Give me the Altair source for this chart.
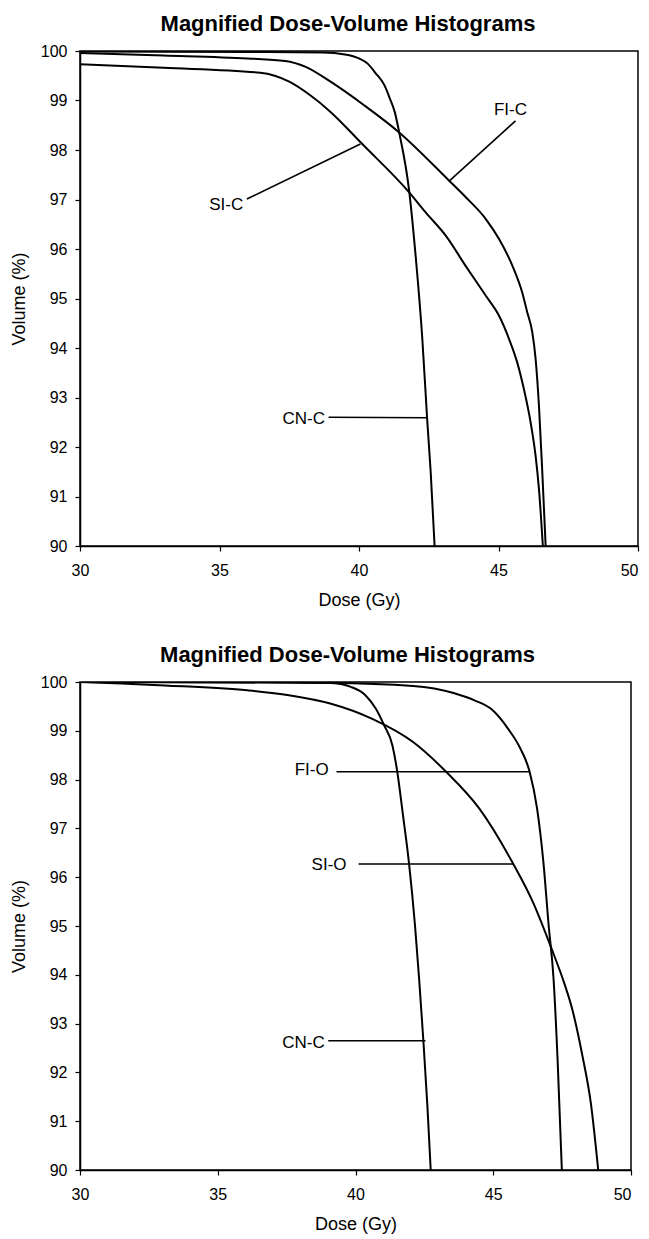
import altair as alt
import pandas as pd

FONT = "Liberation Sans"

# ---------------- Top panel data ----------------
top_cnc_dose = [30, 36, 38.7, 39.5, 40.0, 40.32, 40.6, 40.91, 41.1, 41.28, 41.46, 41.79, 42.03, 42.27, 42.45, 42.57, 42.71]
top_cnc_vol = [99.99, 99.98, 99.97, 99.93, 99.85, 99.74, 99.55, 99.31, 99.05, 98.77, 98.30, 97.21, 95.86, 94.18, 92.50, 91.49, 90.0]

top_fic_dose = [30, 33, 36, 37.35, 38.09, 38.98, 40.17, 41.43, 43.23, 43.82, 44.54, 45.02, 45.50, 45.85, 46.03, 46.21, 46.33, 46.45, 46.57, 46.69]
top_fic_vol = [99.96, 99.91, 99.85, 99.80, 99.68, 99.38, 98.91, 98.36, 97.38, 97.05, 96.61, 96.20, 95.66, 95.12, 94.72, 94.32, 93.78, 92.83, 91.49, 90.0]

top_sic_dose = [30, 33, 36.46, 37.5, 38.24, 38.98, 40.10, 41.79, 42.39, 43.11, 43.82, 44.54, 45.02, 45.38, 45.67, 45.91, 46.15, 46.33, 46.45, 46.59]
top_sic_vol = [99.73, 99.66, 99.56, 99.38, 99.11, 98.77, 98.13, 97.15, 96.74, 96.27, 95.66, 95.06, 94.65, 94.18, 93.71, 93.17, 92.50, 91.82, 91.15, 90.0]

top_labels = ["FI-C", "SI-C", "CN-C"]
top_label_x = [45.43, 35.24, 38.02]
top_label_y = [98.81, 96.89, 92.57]
top_lead_x1 = [45.61, 35.98, 38.91]
top_lead_y1 = [98.59, 97.01, 92.60]
top_lead_x2 = [43.23, 40.05, 42.44]
top_lead_y2 = [97.37, 98.12, 92.59]

# ---------------- Bottom panel data ----------------
bot_cnc_dose = [30, 36, 39.08, 39.83, 40.36, 40.74, 41.04, 41.34, 41.52, 41.71, 41.94, 42.16, 42.31, 42.46, 42.61, 42.73]
bot_cnc_vol = [100, 100, 99.98, 99.90, 99.73, 99.45, 99.11, 98.70, 98.15, 97.33, 96.30, 95.01, 93.91, 92.68, 91.31, 90.0]

bot_fio_dose = [30, 39.08, 42.09, 43.59, 44.34, 44.94, 45.54, 45.99, 46.32, 46.59, 46.82, 47.01, 47.19, 47.34, 47.49]
bot_fio_vol = [100, 99.98, 99.92, 99.77, 99.62, 99.44, 99.04, 98.63, 98.16, 97.41, 96.31, 95.02, 93.91, 92.20, 90.0]

bot_sio_dose = [30, 31.5, 33.08, 36.08, 37.58, 39.08, 40.59, 42.09, 43.29, 44.49, 45.69, 46.44, 47.12, 47.57, 47.87, 48.24, 48.54, 48.81]
bot_sio_vol = [100, 99.97, 99.93, 99.83, 99.73, 99.56, 99.25, 98.77, 98.16, 97.41, 96.31, 95.49, 94.53, 93.84, 93.29, 92.33, 91.38, 90.0]

bot_labels = ["FI-O", "SI-O", "CN-C"]
bot_label_x = [38.41, 39.04, 38.11]
bot_label_y = [98.19, 96.25, 92.61]
bot_lead_x1 = [39.31, 40.11, 39.01]
bot_lead_y1 = [98.16, 96.27, 92.65]
bot_lead_x2 = [46.32, 45.72, 42.54]
bot_lead_y2 = [98.16, 96.27, 92.65]

x_ticks = [30, 35, 40, 45, 50]
y_ticks = [90, 91, 92, 93, 94, 95, 96, 97, 98, 99, 100]
TITLE = "Magnified Dose-Volume Histograms"


def curves_df(series):
    rows = []
    for name, d, v in series:
        for i, (a, b) in enumerate(zip(d, v)):
            rows.append({"series": name, "order": i, "dose": a, "vol": b})
    return pd.DataFrame(rows)


def panel(series, labels, lx, ly, x1, y1, x2, y2, w, h, dx):
    xs = alt.Scale(domain=[30, 50], nice=False, zero=False)
    ys = alt.Scale(domain=[90, 100], nice=False, zero=False)
    xa = alt.Axis(values=x_ticks, title="Dose (Gy)", grid=False, labelFlush=False,
                  labelAlign={"condition": {"test": "datum.value == 50", "value": "right"},
                              "value": "center"})
    ya = alt.Axis(values=y_ticks, title="Volume (%)", grid=False)

    lines = alt.Chart(curves_df(series)).mark_line(
        color="black", strokeWidth=2, interpolate="monotone", clip=True
    ).encode(
        x=alt.X("dose:Q", scale=xs, axis=xa),
        y=alt.Y("vol:Q", scale=ys, axis=ya),
        detail="series:N",
        order="order:Q",
    )
    ann = pd.DataFrame({"label": labels, "lx": lx, "ly": ly,
                        "x1": x1, "y1": y1, "x2": x2, "y2": y2})
    rules = alt.Chart(ann).mark_rule(color="black", strokeWidth=1.6).encode(
        x=alt.X("x1:Q", scale=xs), y=alt.Y("y1:Q", scale=ys),
        x2="x2:Q", y2="y2:Q",
    )
    texts = alt.Chart(ann).mark_text(
        font=FONT, fontSize=17, color="black", align="center", baseline="middle"
    ).encode(
        x=alt.X("lx:Q", scale=xs), y=alt.Y("ly:Q", scale=ys), text="label:N"
    )
    return alt.layer(lines, rules, texts).properties(
        width=w, height=h,
        title=alt.TitleParams(TITLE, font=FONT, fontSize=22, fontWeight="bold",
                              color="black", offset=7, dx=dx),
    )


top = panel([("CN-C", top_cnc_dose, top_cnc_vol),
             ("FI-C", top_fic_dose, top_fic_vol),
             ("SI-C", top_sic_dose, top_sic_vol)],
            top_labels, top_label_x, top_label_y,
            top_lead_x1, top_lead_y1, top_lead_x2, top_lead_y2, 558, 495, -11)

bottom = panel([("CN-C", bot_cnc_dose, bot_cnc_vol),
                ("FI-O", bot_fio_dose, bot_fio_vol),
                ("SI-O", bot_sio_dose, bot_sio_vol)],
               bot_labels, bot_label_x, bot_label_y,
               bot_lead_x1, bot_lead_y1, bot_lead_x2, bot_lead_y2, 551, 488, -8)

chart = alt.vconcat(top, bottom, spacing=33).properties(
    padding={"left": 1, "top": 4, "right": 0, "bottom": 0}
).configure_view(
    stroke="black", strokeWidth=1.5
).configure_axis(
    domainColor="black", domainWidth=1.5, tickColor="black", tickWidth=1.2,
    tickSize=5, labelColor="black", labelFont=FONT, labelFontSize=16,
    titleFont=FONT, titleFontSize=18, titleColor="black", titleFontWeight="normal",
).configure_axisX(
    labelPadding=11, titlePadding=13
).configure_axisY(
    labelPadding=8, titlePadding=12
)

chart.save("out.html", embed_options={"renderer": "svg", "actions": False})
